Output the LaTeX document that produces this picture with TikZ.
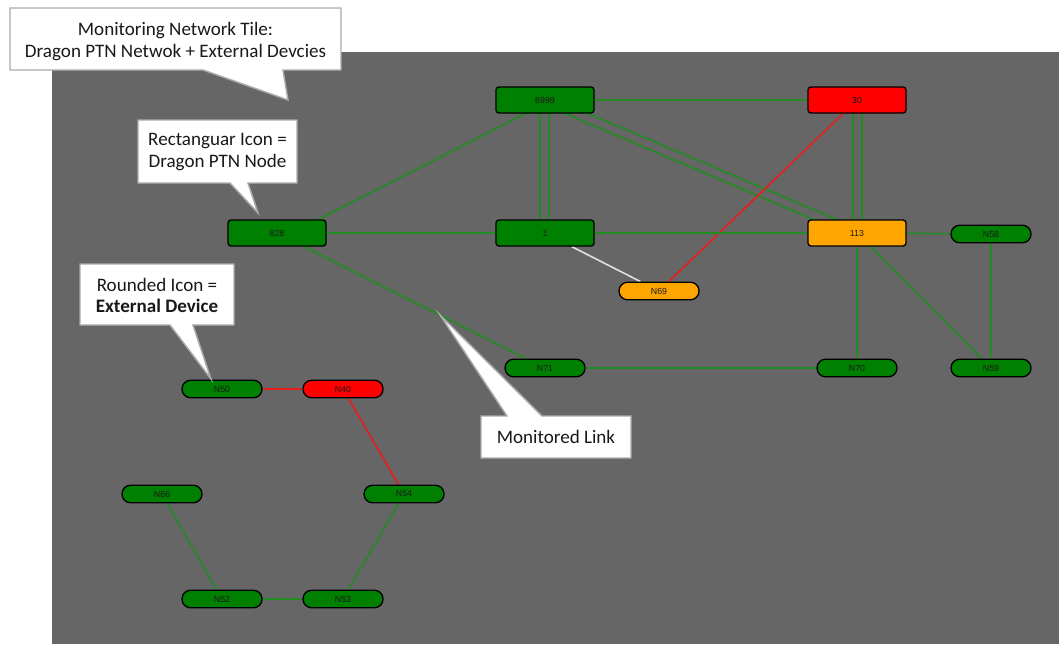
\documentclass[tikz,border=0pt]{standalone}
\usepackage{fontspec}
\newfontfamily\callfont{Carlito}
\newfontfamily\lblfont{Liberation Sans}
\usetikzlibrary{calc}
\pgfdeclarelayer{bglayer}
\pgfdeclarelayer{edgelayer}
\pgfsetlayers{bglayer,edgelayer,main}
\definecolor{tilegray}{RGB}{102,102,102}
\definecolor{nodegreen}{RGB}{0,128,0}
\definecolor{nodered}{RGB}{255,0,0}
\definecolor{nodeorange}{RGB}{255,165,0}
\definecolor{linkgreen}{RGB}{34,139,34}
\definecolor{linkred}{RGB}{230,30,30}
\definecolor{linkwhite}{RGB}{225,225,225}
\definecolor{callborder}{RGB}{170,170,170}
\tikzset{
  ptn/.style={draw=black, line width=1pt, rounded corners=2.2pt, minimum width=73.5pt, minimum height=19.5pt, inner sep=0pt, font=\lblfont\fontsize{6.6}{7}\selectfont, text=black!90},
  ext/.style={draw=black, line width=1pt, rounded corners=6.5pt, minimum width=60pt, minimum height=13.2pt, inner sep=0pt, font=\lblfont\fontsize{6.6}{7}\selectfont, text=black!90},
  link/.style={draw=linkgreen, line width=1.2pt},
  redlink/.style={draw=linkred, line width=1.2pt},
  greylink/.style={draw=linkwhite, line width=1.2pt},
  callbox/.style={fill=white, draw=callborder, line width=1.1pt, line join=miter},
  calltext/.style={font=\callfont\fontsize{14.3}{16}\selectfont, align=center, text=black!90, inner sep=0pt},
}
\begin{document}
\begin{tikzpicture}[x=0.75pt, y=-0.75pt]
\useasboundingbox (0,0) rectangle (1059,644);
\begin{pgfonlayer}{bglayer}
  \fill[tilegray] (52,52) rectangle (1059,644);
\end{pgfonlayer}

% Dragon PTN nodes
\node[ptn, fill=nodegreen] (n8999) at (545,100) {8999};
\node[ptn, fill=nodered] (n30) at (857,100) {30};
\node[ptn, fill=nodegreen] (n828) at (277,233) {828};
\node[ptn, fill=nodegreen] (n1) at (545,233) {1};
\node[ptn, fill=nodeorange] (n113) at (857,233) {113};

% External devices
\node[ext, fill=nodegreen] (N58) at (991,234) {N58};
\node[ext, fill=nodeorange] (N69) at (659,291) {N69};
\node[ext, fill=nodegreen] (N71) at (545,368) {N71};
\node[ext, fill=nodegreen] (N70) at (857,368) {N70};
\node[ext, fill=nodegreen] (N59) at (991,368) {N59};
\node[ext, fill=nodegreen] (N50) at (222,389) {N50};
\node[ext, fill=nodered] (N40) at (343,389) {N40};
\node[ext, fill=nodegreen] (N66) at (162,494) {N66};
\node[ext, fill=nodegreen] (N54) at (404,494) {N54};
\node[ext, fill=nodegreen] (N52) at (222,599) {N52};
\node[ext, fill=nodegreen] (N53) at (343,599) {N53};

\begin{pgfonlayer}{edgelayer}
  \draw[link] (n8999) -- (n30);
  \draw[link] ($(n8999)+(7,0)$) -- ($(n828)+(15,0)$);
  \draw[link] ($(n8999)+(-5,0)$) -- ($(n1)+(-5,0)$);
  \draw[link] ($(n8999)+(4,0)$) -- ($(n1)+(4,0)$);
  \draw[link] ($(n8999)+(-1.8,4.2)$) -- ($(n113)+(-1.8,4.2)$);
  \draw[link] ($(n8999)+(1.8,-4.2)$) -- ($(n113)+(1.8,-4.2)$);
  \draw[link] ($(n30)+(-4,0)$) -- ($(n113)+(-4,0)$);
  \draw[link] ($(n30)+(5,0)$) -- ($(n113)+(5,0)$);
  \draw[redlink] (n30) -- (N69);
  \draw[link] (n828) -- (n1);
  \draw[link] (n1) -- (n113);
  \draw[greylink] (n1) -- (N69);
  \draw[link] (n113) -- (N58);
  \draw[link] (n113) -- (N70);
  \draw[link] (n113) -- (N59);
  \draw[link] (N58) -- (N59);
  \draw[link] (n828) -- (N71);
  \draw[link] (N71) -- (N70);
  \draw[redlink] (N50) -- (N40);
  \draw[redlink] (N40) -- (N54);
  \draw[link] (N54) -- (N53);
  \draw[link] (N66) -- (N52);
  \draw[link] (N52) -- (N53);
\end{pgfonlayer}

% Callouts
\draw[callbox] (10,8) -- (341,8) -- (341,70) -- (283,70) -- (288,100) -- (203,70) -- (10,70) -- cycle;
\node[calltext] (c1) at (175.5,41.5) {Monitoring Network Tile:\\Dragon PTN Netwok + External Devcies};

\draw[callbox] (138,120) -- (297,120) -- (297,183) -- (248,183) -- (258,213) -- (230,183) -- (138,183) -- cycle;
\node[calltext] (c2) at (217.5,152) {Rectanguar Icon =\\Dragon PTN Node};

\draw[callbox] (80,264) -- (234,264) -- (234,325) -- (193,325) -- (211,379) -- (170,325) -- (80,325) -- cycle;
\node[calltext] (c3) at (157,295.5) {Rounded Icon =\\\textbf{External Device}};

\draw[callbox] (481,416) -- (507,416) -- (440,315) -- (542,416) -- (631,416) -- (631,458) -- (481,458) -- cycle;
\node[calltext] (c4) at (556,437) {Monitored Link};
\end{tikzpicture}
\end{document}
